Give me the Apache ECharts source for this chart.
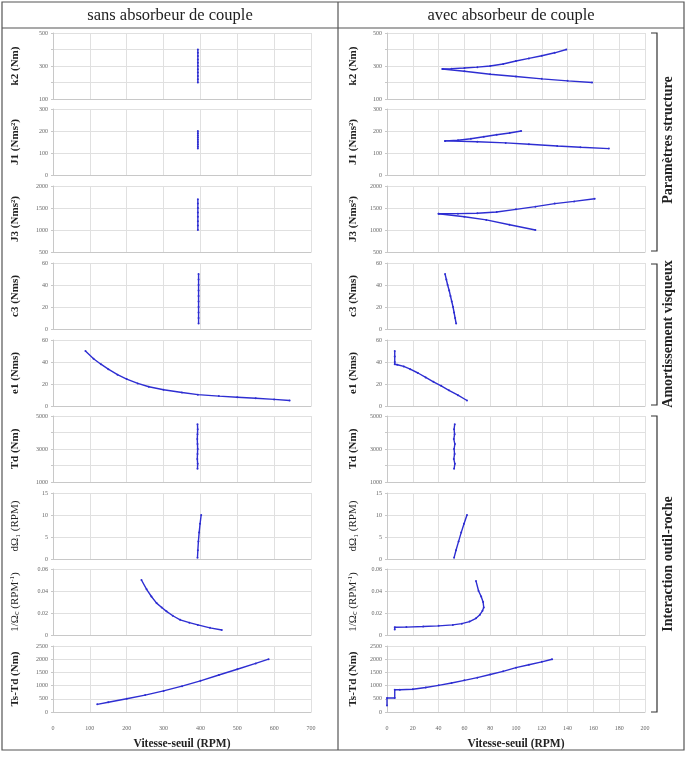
<!DOCTYPE html>
<html>
<head>
<meta charset="utf-8">
<script src="https://cdn.jsdelivr.net/npm/echarts@6/dist/echarts.min.js"></script>
<style>
  html, body { margin: 0; background: #fff; }
  #chart { width: 687px; height: 760px; }
</style>
</head>
<body>
<div id="chart"></div>
<script>
// sans absorbeur de couple : [vitesse-seuil (RPM), valeur]
const k2Sans = [[393,200],[393,220],[393,240],[393,260],[393,280],[393,300],[393,320],[393,340],[393,360],[393,380],[393,400]];
const j1Sans = [[393,120],[393,130],[393,140],[393,150],[393,160],[393,170],[393,180],[393,190],[393,200]];
const j3Sans = [[393,1000],[393,1100],[393,1200],[393,1300],[393,1400],[393,1500],[393,1600],[393,1700]];
const c3Sans = [[395,5],[395,10],[395,15],[395,20],[395,25],[395,30],[395,35],[395,40],[395,45],[395,50]];
const e1Sans = [[88,50],[110,43],[130,38],[150,33.5],[175,28.5],[200,24.5],[230,20.5],[260,17.5],[300,14.8],[350,12.3],[393,10.3],[450,9],[500,8],[550,7],[600,6],[642,5]];
const tdSans = [[392,1800],[392.5,2100],[391.5,2400],[392,2700],[392.5,3000],[392,3300],[391.5,3600],[392,3900],[392.5,4200],[392,4500]];
const dO1Sans = [[392,0.3],[393,2],[394.5,4],[396.5,6],[399,8],[402,10]];
const invOcSans = [[240,0.05],[254,0.0415],[267,0.035],[281,0.029],[295,0.025],[308,0.0215],[325,0.0175],[345,0.0138],[370,0.0112],[393,0.0092],[426,0.0065],[458,0.0045]];
const tstdSans = [[120,290],[150,370],[200,500],[250,640],[300,800],[350,980],[400,1180],[450,1400],[500,1620],[550,1840],[585,2000]];

// avec absorbeur de couple
const k2AvecHaut = [[43,282],[50,284],[60,288],[70,293],[80,300],[90,312],[100,330],[110,346],[120,362],[130,380],[139,400]];
const k2AvecBas = [[43,282],[60,268],[80,250],[100,236],[120,222],[140,210],[159,200]];
const j1AvecHaut = [[45,155],[55,158],[65,165],[75,174],[85,183],[95,191],[104,200]];
const j1AvecBas = [[45,155],[70,151],[92,146],[110,140],[132,132],[150,126],[172,120]];
const j3AvecHaut = [[40,1370],[55,1372],[70,1380],[85,1410],[100,1470],[115,1530],[130,1600],[145,1650],[161,1710]];
const j3AvecBas = [[40,1370],[60,1300],[77,1230],[95,1120],[115,1000]];
const c3Avec = [[45,50],[46,45],[47,40],[48.2,35],[49.2,30],[50.2,25],[51.2,20],[52,15],[52.8,10],[53.6,5]];
const e1Avec = [[6,50],[6,45],[6,40],[6,38],[8,37.5],[13,36],[18,33.5],[24,30],[30,26],[36,22],[42,18.3],[48,14.3],[55,9.8],[62,5]];
const tdAvec = [[52,1800],[52.6,2100],[51.8,2400],[52.4,2700],[52,3000],[52.6,3300],[51.8,3600],[52.4,3900],[52,4200],[52.5,4500]];
const dO1Avec = [[52,0.3],[53.5,2],[55.5,4],[57.5,6],[59.7,8],[62,10]];
const invOcAvec = [[6,0.005],[6,0.007],[15,0.0072],[28,0.0077],[40,0.0083],[51,0.0092],[58,0.0103],[64,0.0122],[69,0.0152],[72,0.0185],[74,0.022],[75,0.025],[74.5,0.03],[73,0.035],[71,0.04],[69,0.049]];
const tstdAvec = [[0,250],[0,530],[6,530],[6,840],[10,845],[20,860],[30,930],[40,1010],[50,1100],[60,1200],[70,1300],[80,1420],[90,1540],[100,1680],[110,1790],[120,1900],[128,2000]];

const rowNames = ['k2 (Nm)', 'J1 (Nms²)', 'J3 (Nms²)', 'c3 (Nms)', 'e1 (Nms)', 'Td (Nm)', 'dΩ₁ (RPM)', '1/Ω{c|c} (RPM{s|-1})', 'Ts-Td (Nm)'];
const rowMin = [100, 0, 500, 0, 0, 1000, 0, 0, 0];
const rowMax = [500, 300, 2000, 60, 60, 5000, 15, 0.06, 2500];
const rowStep = [100, 100, 500, 20, 20, 1000, 5, 0.02, 500];
const rowLabelStep = [200, 100, 500, 20, 20, 2000, 5, 0.02, 500];
const rowTop = [33, 109, 186, 263, 340, 416, 493, 569, 646];
const rowHeight = 66;

const sansData = [[k2Sans], [j1Sans], [j3Sans], [c3Sans], [e1Sans], [tdSans], [dO1Sans], [invOcSans], [tstdSans]];
const avecData = [[k2AvecHaut, k2AvecBas], [j1AvecHaut, j1AvecBas], [j3AvecHaut, j3AvecBas], [c3Avec], [e1Avec], [tdAvec], [dO1Avec], [invOcAvec], [tstdAvec]];

const xSansMax = 700, xSansStep = 100;
const xAvecMax = 200, xAvecStep = 20;

const SERIF = '"Liberation Serif", "DejaVu Serif", serif';
const BLUE = '#2e2ed2';
const GRID_COLOR = '#e0e0e0';

const chart = echarts.init(document.getElementById('chart'));

const grids = [], xAxes = [], yAxes = [], series = [];

const columns = [
  { left: 53, data: sansData, max: xSansMax, step: xSansStep, nameGap: 32 },
  { left: 387, data: avecData, max: xAvecMax, step: xAvecStep, nameGap: 28 },
];

columns.forEach((col) => {
  rowNames.forEach((name, r) => {
    const idx = grids.length;
    const last = r === rowNames.length - 1;
    const special = r === 6 || r === 7;
    grids.push({ left: col.left, top: rowTop[r], width: 258, height: rowHeight });
    xAxes.push({
      gridIndex: idx,
      type: 'value',
      min: 0,
      max: col.max,
      interval: col.step,
      axisLine: { show: true, lineStyle: { color: '#c8c8c8' } },
      axisTick: { show: false },
      axisLabel: { show: last, color: '#666', fontSize: 6, fontFamily: SERIF, margin: 13 },
      splitLine: { show: true, lineStyle: { color: GRID_COLOR } },
      name: last ? 'Vitesse-seuil (RPM)' : '',
      nameLocation: 'middle',
      nameGap: 26,
      nameTextStyle: { fontFamily: SERIF, fontWeight: 'bold', fontSize: 11.5, color: '#222' },
    });
    const labelStep = rowLabelStep[r];
    yAxes.push({
      gridIndex: idx,
      type: 'value',
      min: rowMin[r],
      max: rowMax[r],
      interval: rowStep[r],
      axisLine: { show: true, lineStyle: { color: '#c8c8c8' } },
      axisTick: { show: true, length: 2, lineStyle: { color: '#c8c8c8' } },
      axisLabel: {
        color: '#666', fontSize: 6, fontFamily: SERIF, margin: 5,
        formatter: (v) => {
          const k = (v - rowMin[r]) / labelStep;
          return Math.abs(k - Math.round(k)) < 1e-6 ? String(+v.toFixed(4)) : '';
        },
      },
      splitLine: { show: true, lineStyle: { color: GRID_COLOR } },
      name: name,
      nameLocation: 'middle',
      nameRotate: 90,
      nameGap: col.nameGap,
      nameTextStyle: {
        fontFamily: SERIF,
        fontWeight: special ? 'normal' : 'bold',
        fontSize: 11,
        color: '#222',
        rich: {
          c: { fontFamily: SERIF, fontSize: 8, color: '#222', verticalAlign: 'bottom', padding: [4, 0, 0, 0] },
          s: { fontFamily: SERIF, fontSize: 7, color: '#222', verticalAlign: 'top', padding: [0, 0, 5, 0] },
        },
      },
    });
    col.data[r].forEach((branch) => {
      series.push({
        type: 'line',
        xAxisIndex: idx,
        yAxisIndex: idx,
        data: branch,
        symbol: 'circle',
        symbolSize: 2,
        showSymbol: true,
        lineStyle: { color: BLUE, width: 1.4 },
        itemStyle: { color: BLUE },
        silent: true,
      });
    });
  });
});

const lineStyle = { stroke: '#555', lineWidth: 1.2, fill: null };
const bracket = (y1, y2) => ({
  type: 'polyline',
  shape: { points: [[651, y1], [657, y1], [657, y2], [651, y2]] },
  style: { stroke: '#333', lineWidth: 1.2, fill: null },
});
const sideText = (text, y) => ({
  type: 'text',
  x: 668,
  y: y,
  rotation: Math.PI / 2,
  style: {
    text: text,
    font: 'bold 14px ' + SERIF,
    fill: '#222',
    align: 'center',
    verticalAlign: 'middle',
  },
});

const graphics = [
  { type: 'rect', shape: { x: 2, y: 2, width: 682, height: 748 }, style: lineStyle },
  { type: 'line', shape: { x1: 2, y1: 28, x2: 684, y2: 28 }, style: lineStyle },
  { type: 'line', shape: { x1: 338, y1: 2, x2: 338, y2: 750 }, style: lineStyle },
  { type: 'text', x: 170, y: 16, style: { text: 'sans absorbeur de couple', font: '16.5px ' + SERIF, fill: '#222', align: 'center', verticalAlign: 'middle' } },
  { type: 'text', x: 511, y: 16, style: { text: 'avec absorbeur de couple', font: '16.5px ' + SERIF, fill: '#222', align: 'center', verticalAlign: 'middle' } },
  bracket(33, 251),
  bracket(264, 405),
  bracket(416, 712),
  sideText('Paramètres structure', 140),
  sideText('Amortissement visqueux', 334),
  sideText('Interaction outil-roche', 564),
];

chart.setOption({
  animation: false,
  backgroundColor: '#fff',
  grid: grids,
  xAxis: xAxes,
  yAxis: yAxes,
  series: series,
  graphic: graphics,
});
</script>
</body>
</html>
